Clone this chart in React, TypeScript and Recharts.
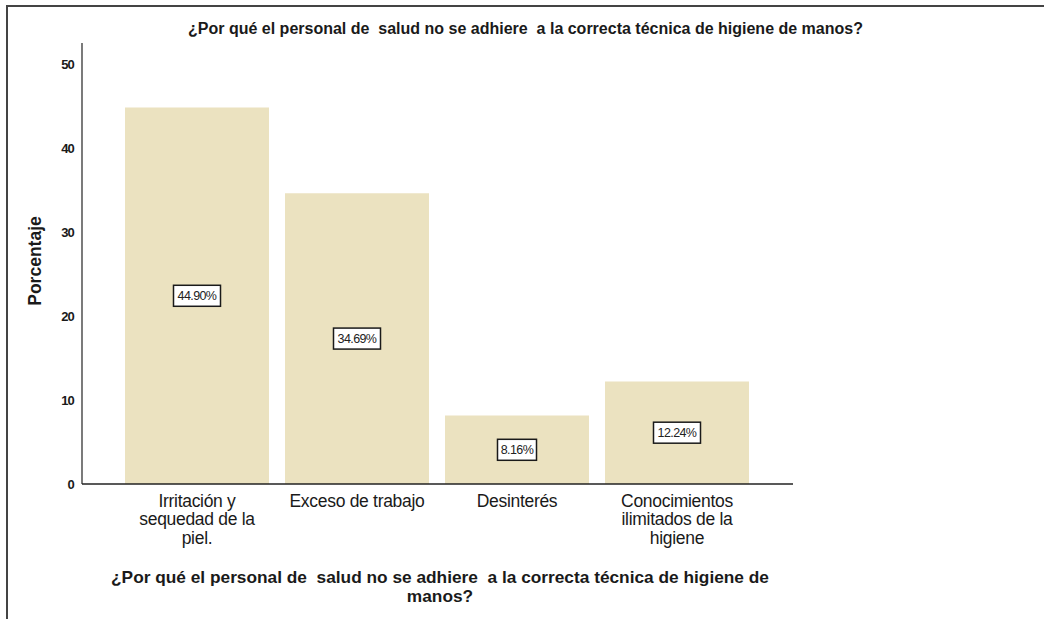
import { BarChart, Bar, XAxis, YAxis, LabelList } from 'recharts';

const categories = [
  'Irritación y\nsequedad de la\npiel.',
  'Exceso de trabajo',
  'Desinterés',
  'Conocimientos\nilimitados de la\nhigiene',
];
const percentages = [44.9, 34.69, 8.16, 12.24];
const yTicks = [0, 10, 20, 30, 40, 50];

const TITLE = '¿Por qué el personal de  salud no se adhiere  a la correcta técnica de higiene de manos?';
const X_TITLE_1 = '¿Por qué el personal de  salud no se adhiere  a la correcta técnica de higiene de';
const X_TITLE_2 = 'manos?';

const BAR_COLOR = '#ebe2c0';
const FONT = '"Liberation Sans", Arial, sans-serif';

const chartData = categories.map((name, i) => ({ name, value: percentages[i] }));

function CategoryTick(props: any) {
  const { x, y, payload } = props;
  const lines = String(payload.value).split('\n');
  return (
    <text x={x} y={y} textAnchor="middle" fontFamily={FONT} fontSize={17.5} fill="#1a1a1a" letterSpacing={-0.3}>
      {lines.map((line, i) => (
        <tspan key={i} x={x} dy={i === 0 ? 14.5 : 18.5}>
          {line}
        </tspan>
      ))}
    </text>
  );
}

function BoxLabel(props: any) {
  const { x, y, width, height, value } = props;
  const text = `${Number(value).toFixed(2)}%`;
  const cx = x + width / 2;
  const cy = y + height / 2;
  const w = text.length * 8 - 1;
  const h = 21;
  return (
    <g>
      <rect x={cx - w / 2} y={cy - h / 2} width={w} height={h} fill="#fff" stroke="#1a1a1a" strokeWidth={1.5} />
      <text x={cx} y={cy + 4.5} textAnchor="middle" fontFamily={FONT} fontSize={12.5} fill="#222" letterSpacing={-0.6}>
        {text}
      </text>
    </g>
  );
}

export default function App() {
  return (
    <div style={{ position: 'relative', width: 1044, height: 619, background: '#fff', fontFamily: FONT }}>
      <style>{'body { margin: 0; }'}</style>
      <div
        style={{
          position: 'absolute',
          left: 6,
          top: 5,
          right: 0,
          bottom: 0,
          borderTop: '2px solid #444',
          borderLeft: '2px solid #444',
        }}
      />
      <div
        style={{
          position: 'absolute',
          left: 7,
          right: 0,
          top: 20,
          textAlign: 'center',
          fontWeight: 'bold',
          fontSize: 16,
          color: '#1a1a1a',
          whiteSpace: 'pre',
        }}
      >
        {TITLE}
      </div>
      <div
        style={{
          position: 'absolute',
          left: 35,
          top: 261,
          transform: 'translate(-50%, -50%) rotate(-90deg)',
          fontWeight: 'bold',
          fontSize: 17.5,
          color: '#1a1a1a',
          whiteSpace: 'nowrap',
        }}
      >
        Porcentaje
      </div>
      <div
        style={{
          position: 'absolute',
          left: 40,
          width: 800,
          top: 568,
          textAlign: 'center',
          fontWeight: 'bold',
          fontSize: 17.3,
          lineHeight: '19px',
          color: '#1a1a1a',
          whiteSpace: 'pre',
        }}
      >
        {X_TITLE_1}
        {'\n'}
        {X_TITLE_2}
      </div>
      <div style={{ position: 'absolute', left: 0, top: 0 }}>
        <BarChart
          width={1044}
          height={619}
          data={chartData}
          margin={{ top: 43, right: 251, bottom: 0, left: 0 }}
        >
          <XAxis
            dataKey="name"
            height={135}
            interval={0}
            padding={{ left: 35, right: 36 }}
            tickLine={false}
            axisLine={{ stroke: '#222', strokeWidth: 1.5 }}
            tick={<CategoryTick />}
          />
          <YAxis
            width={82}
            domain={[0, 52.6]}
            ticks={yTicks}
            tickLine={false}
            tickSize={6}
            axisLine={{ stroke: '#222', strokeWidth: 1.2 }}
            tick={{ fontSize: 13, fontWeight: 'bold', fill: '#1a1a1a', fontFamily: FONT, letterSpacing: -0.8 }}
          />
          <Bar dataKey="value" fill={BAR_COLOR} barSize={144} isAnimationActive={false}>
            <LabelList dataKey="value" content={<BoxLabel />} />
          </Bar>
        </BarChart>
      </div>
    </div>
  );
}
